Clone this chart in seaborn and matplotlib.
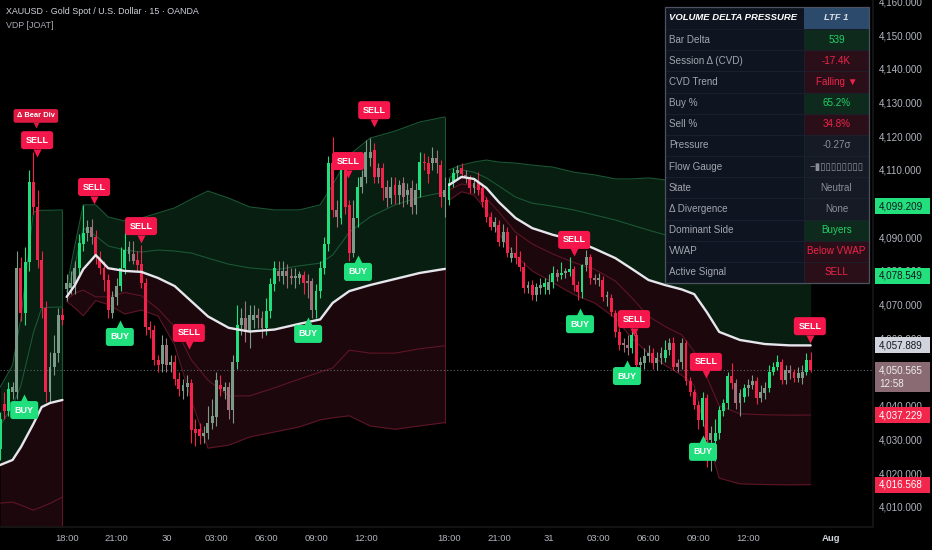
import numpy as np
import pandas as pd
import matplotlib
matplotlib.use("Agg")
import matplotlib.pyplot as plt
import matplotlib.transforms as mtransforms
from matplotlib.patches import Rectangle
import seaborn as sns

# ---------------- candles (15-min bars, index 0..195) ----------------
# session A : bars 0..15
open_a = [4027, 4040.5, 4038.5, 4044, 4044, 4081, 4067.5, 4082.5, 4106.4, 4099, 4083.2, 4069, 4044, 4051.5, 4055.5, 4067]
high_a = [4038, 4044, 4047, 4047, 4086, 4084, 4087, 4110, 4115.3, 4104, 4086, 4071, 4056, 4061, 4069, 4069]
low_a = [4024, 4036, 4037, 4042, 4042, 4065, 4064, 4080, 4097, 4081, 4066, 4041, 4041, 4049, 4053, 4064]
close_a = [4036, 4038.5, 4045, 4045.5, 4081, 4067.5, 4082.5, 4106.4, 4099, 4083.2, 4069, 4044, 4051.5, 4055.5, 4067, 4065.5]

# session B : bars 16..107
open_b = [4074.5, 4075, 4076, 4081, 4088, 4091.3, 4093, 4090, 4084, 4081,
          4077.3, 4067.5, 4072.3, 4075.5, 4081, 4085, 4085, 4083.2, 4082, 4076.4,
          4063.5, 4062.5, 4053.6, 4052.5, 4058, 4052, 4053, 4048, 4044.5, 4045.5,
          4046.8, 4033, 4033, 4031, 4032, 4035, 4036.5, 4046, 4044.5, 4045.5,
          4038.7, 4053, 4064, 4066, 4062, 4065.5, 4067, 4066, 4063, 4068,
          4076, 4080, 4078.5, 4080, 4078.5, 4077.8, 4078, 4078.8, 4077, 4077,
          4068.5, 4074, 4081, 4088, 4112, 4098, 4095.6, 4109.9, 4099.6, 4085.2,
          4095.6, 4105, 4107.9, 4113.4, 4115.9, 4110.4, 4110.4, 4105, 4101.5, 4105.5,
          4102.5, 4106, 4102.5, 4104.5, 4099.6, 4104, 4112.4, 4112, 4111.9, 4113.4,
          4111.4, 4102]
high_b = [4079, 4080, 4083, 4091, 4099.5, 4095, 4095.5, 4092, 4086, 4083,
          4079, 4074, 4078, 4087, 4092, 4089, 4089, 4086, 4087.7, 4078,
          4065, 4064, 4055, 4061, 4060, 4055, 4055, 4050, 4048, 4049,
          4048, 4036, 4035, 4034, 4040, 4042, 4050, 4049, 4047, 4047,
          4055, 4070, 4069, 4071, 4070, 4070, 4069, 4068, 4072, 4078,
          4083, 4083, 4083, 4082, 4081, 4081, 4080, 4080, 4079, 4078,
          4076, 4083, 4090, 4114, 4119.8, 4101, 4112, 4115, 4101, 4101,
          4108, 4110, 4118.8, 4119.4, 4118, 4112, 4112, 4107, 4108, 4108,
          4107, 4108, 4106, 4107, 4106, 4115.4, 4115, 4114, 4116.9, 4116,
          4113, 4108]
low_b = [4071, 4073, 4073, 4079, 4086, 4089, 4088, 4082, 4079, 4074,
         4066, 4066, 4070, 4074, 4079, 4083, 4082, 4080, 4075, 4061,
         4060, 4052, 4050, 4050, 4050, 4050, 4046, 4043, 4042, 4043,
         4029, 4028, 4028.5, 4029, 4030, 4033, 4034, 4043, 4042, 4036,
         4035, 4051, 4061, 4059, 4057, 4063, 4063, 4060, 4061, 4066,
         4074, 4077, 4076, 4075, 4076, 4075, 4076, 4073, 4072, 4066,
         4066, 4072, 4079, 4086, 4096, 4093, 4094, 4097, 4083, 4084,
         4093, 4103, 4106, 4111, 4106, 4106, 4101, 4099, 4100, 4100,
         4100, 4099, 4100, 4097, 4097, 4102, 4110, 4106, 4110, 4109,
         4099, 4096]
close_b = [4076.5, 4076.5, 4081, 4088.3, 4091.3, 4093, 4090, 4084, 4081, 4077.3,
           4068.4, 4072.3, 4075.5, 4081, 4086.2, 4087, 4083, 4081.7, 4076.4, 4063.4,
           4062.5, 4053.6, 4052, 4058, 4052, 4053, 4048, 4045, 4046, 4046.8,
           4032.8, 4032, 4031, 4032, 4035, 4037, 4047.6, 4045, 4045.5, 4038.7,
           4053, 4064, 4066, 4062, 4067, 4067, 4066, 4063, 4068, 4076,
           4081, 4078.5, 4080, 4078.5, 4078, 4078.6, 4079, 4076.5, 4076.4, 4068.5,
           4074, 4081, 4088, 4112, 4098, 4096, 4109.9, 4099.1, 4085.2, 4095.6,
           4105, 4107.9, 4115.4, 4115.4, 4107.9, 4107.9, 4104.5, 4101.5, 4105, 4102.5,
           4105.5, 4102, 4104, 4099.1, 4104, 4112.4, 4111.9, 4108.9, 4113.4, 4112,
           4102, 4104]

# session C : bars 108..195
open_c = [4101, 4106, 4109, 4110.5, 4108.5, 4107.5, 4104.5, 4106, 4104.5, 4101,
          4096, 4093.1, 4093.6, 4088.7, 4091.6, 4083.7, 4085.2, 4084.2, 4081.3, 4074.8,
          4075.8, 4072.8, 4075, 4075.3, 4074.3, 4076.8, 4079.3, 4078.8, 4079.5, 4079.8,
          4080.5, 4075.8, 4073.8, 4081.7, 4084.2, 4077.8, 4077.3, 4077.3, 4072.3, 4071.9,
          4067.4, 4062, 4058.5, 4058, 4057, 4061, 4052, 4052.6, 4054.6, 4055.6,
          4052.6, 4054.1, 4054.1, 4056.6, 4058.5, 4052.6, 4053.1, 4058.5, 4047.2, 4044.2,
          4040.2, 4035.8, 4042.2, 4029.9, 4029.4, 4031.8, 4038.3, 4040.7, 4048.7, 4046.7,
          4040.7, 4042.7, 4045.2, 4046.2, 4047.2, 4042.2, 4043.7, 4045.2, 4050.1, 4051.6,
          4053.1, 4047.7, 4050.6, 4050.1, 4048.2, 4048.2, 4050.1, 4053.6]
high_c = [4107.5, 4110.5, 4111.5, 4112, 4110, 4108.5, 4107.5, 4109.5, 4106, 4102,
          4097.5, 4096, 4095, 4094, 4093, 4087, 4090.6, 4086, 4082.5, 4077,
          4077.3, 4076.5, 4078, 4078, 4079, 4081.5, 4080.5, 4082.5, 4081, 4084,
          4081.5, 4077, 4082, 4086.2, 4085, 4079, 4079.5, 4078.5, 4074, 4073,
          4068.5, 4063, 4060, 4061, 4063, 4062, 4054.5, 4057, 4058, 4057,
          4056, 4057.5, 4059.5, 4060, 4060.5, 4054, 4060, 4059.5, 4048.5, 4045,
          4041.5, 4044, 4043.5, 4034, 4036, 4040, 4042, 4050, 4052.6, 4048,
          4045, 4046.5, 4048, 4049, 4048.5, 4046, 4047, 4052, 4053, 4055,
          4054, 4052, 4052, 4051, 4051.5, 4052, 4055.5, 4056]
low_c = [4099.5, 4105, 4107, 4107.5, 4106, 4103, 4103, 4102.5, 4099, 4094.5,
         4092, 4091.5, 4087.5, 4087, 4084, 4082.5, 4082, 4080, 4073.5, 4073.5,
         4071.5, 4071, 4073, 4073, 4073, 4075, 4077, 4077.5, 4078, 4078.5,
         4074, 4071.5, 4072, 4080, 4076, 4076, 4075.5, 4071, 4069.5, 4066.5,
         4060.5, 4056.5, 4056, 4055, 4055.5, 4051, 4050, 4051, 4053, 4051,
         4050.5, 4052.5, 4053, 4055, 4050.5, 4050, 4051, 4046, 4043, 4039,
         4033, 4034, 4021.8, 4020.5, 4023.5, 4030, 4037, 4039, 4045, 4039,
         4036.8, 4041, 4043, 4045, 4040.5, 4041, 4042, 4044, 4049, 4050.5,
         4046.5, 4046.5, 4048, 4047, 4047, 4046.5, 4049, 4050]
close_c = [4106, 4109, 4110, 4108.8, 4107.5, 4104.5, 4106, 4104, 4100.5, 4096,
           4093.1, 4094.6, 4088.7, 4091.6, 4085.2, 4085.2, 4083.7, 4081.3, 4074.8, 4075.8,
           4072.8, 4075.3, 4075.8, 4076.3, 4076.8, 4079.3, 4078.3, 4079.5, 4079.8, 4080.5,
           4075.8, 4073.8, 4081.7, 4084.2, 4077.8, 4077.3, 4077.8, 4072.3, 4072.8, 4067.9,
           4062, 4058, 4058, 4057, 4061, 4052, 4053, 4054.6, 4055.6, 4052.6,
           4054.1, 4055.6, 4056.6, 4058.5, 4051.6, 4051.6, 4058.5, 4047.2, 4044.2, 4040.2,
           4035.8, 4042.2, 4029.9, 4031.8, 4031.8, 4038.8, 4040.7, 4048.7, 4046.7, 4040.7,
           4043.7, 4045.2, 4046.2, 4047.2, 4042.2, 4044.2, 4045.2, 4050.1, 4051.6, 4053.1,
           4047.7, 4050.6, 4049.6, 4048.2, 4049.6, 4050.1, 4053.6, 4050.565]

# 1 = strong pressure candle colour, 0 = muted candle colour
strong_flags = ("1110011111110001" "0001100111100110" "0111111000110011" "1000010001000000"
                "1110000001001111" "1011101000101001" "0000011100101101" "0101111010101110"
                "1001010101111010" "0101110011000100" "1010011111101111" "1001001001111001" "0011")

# ---------------- session VWAP and bands (read at knots) ----------------
knots_a = [0, 3, 5, 8, 10, 12, 15]
vwap_a = [4022.4, 4023.9, 4027.7, 4034.6, 4039.6, 4040.8, 4041.7]
up1_a = [4034, 4040, 4046, 4061.6, 4069, 4069.2, 4069.3]
up2_a = [4045.5, 4052, 4066, 4097.5, 4098, 4098, 4098.1]
dn1_a = [4011.1, 4011.4, 4010.5, 4009, 4010, 4011, 4012.9]
dn2_a = [3999, 3996, 3990, 3983, 3980, 3982, 3985]

knots_b = [16, 18, 20, 23, 26, 30, 34, 38, 42, 46, 50, 55, 60, 66, 72, 77, 80, 84, 89, 95, 101, 107]
vwap_b = [4072.3, 4075.8, 4080.5, 4084.7, 4080.8, 4080.0, 4079.7, 4077.9, 4075.5, 4071.0, 4066.5,
          4063.1, 4062.0, 4062.6, 4064.3, 4065.6, 4070.5, 4074.0, 4075.8, 4077.6, 4079.4, 4080.6]
up1_b = [4073.8, 4081.8, 4092.7, 4090.4, 4087.4, 4086.2, 4085.6, 4086.2, 4085.9, 4085.3, 4083.8,
         4082.0, 4080.9, 4080.3, 4081.5, 4082.3, 4084.7, 4091.5, 4096.0, 4099.6, 4101.9, 4103.4]
up2_b = [4075.2, 4087.7, 4099.6, 4099.6, 4096.0, 4094.8, 4095.7, 4097.2, 4098.7, 4101.3, 4103.7,
         4101.6, 4099.0, 4098.1, 4098.1, 4099.6, 4105.5, 4114.4, 4119.4, 4121.5, 4124.2, 4125.7]
dn1_b = [4071.5, 4073.4, 4074.3, 4072.3, 4072.3, 4073.6, 4072.6, 4068.7, 4063.4, 4053.6, 4047.6,
         4042.9, 4042.9, 4045.3, 4047.9, 4050.0, 4051.2, 4056.5, 4055.6, 4055.6, 4056.9, 4057.8]
dn2_b = [4071.0, 4069.0, 4066.7, 4071.2, 4070.0, 4067.2, 4068.4, 4066.6, 4058.0, 4041.7, 4027.4,
         4028.3, 4030.7, 4032.2, 4033.7, 4035.8, 4036.4, 4037.0, 4034.0, 4033.0, 4034.0, 4035.0]

knots_c = [108, 111, 114, 117, 120, 124, 128, 133, 138, 143, 148, 152, 156, 160, 164, 167, 170, 173, 178, 184, 190, 195]
vwap_c = [4105.5, 4107.9, 4107.3, 4104.6, 4100.4, 4095.7, 4092.7, 4090.7, 4089.2, 4086.6, 4083.8,
          4080.6, 4077.3, 4075.8, 4074.5, 4073.1, 4067.8, 4061.9, 4059.5, 4058.3, 4057.9, 4057.889]
up1_c = [4107.6, 4110.0, 4109.3, 4107.6, 4105.2, 4101.9, 4100.1, 4099.2, 4098.1, 4096.6, 4095.1,
         4093.6, 4092.1, 4090.7, 4088.6, 4086.8, 4084.4, 4082.0, 4080.3, 4079.1, 4078.5, 4078.549]
up2_c = [4110.0, 4111.4, 4112.3, 4112.9, 4112.3, 4112.0, 4111.4, 4110.8, 4109.3, 4108.5, 4107.3,
         4107.3, 4107.6, 4107.0, 4106.4, 4105.5, 4104.0, 4102.2, 4101.0, 4099.8, 4099.3, 4099.209]
dn1_c = [4104.0, 4105.8, 4105.3, 4101.5, 4097.5, 4091.5, 4088.0, 4085.0, 4082.5, 4080.5, 4077.0,
         4072.0, 4066.5, 4063.5, 4061.0, 4056.0, 4048.5, 4040.0, 4037.6, 4037.3, 4037.2, 4037.229]
dn2_c = [4101.0, 4103.5, 4102.5, 4098.0, 4091.0, 4084.5, 4080.0, 4076.5, 4073.0, 4070.5, 4066.0,
         4060.0, 4055.5, 4052.0, 4049.0, 4046.0, 4031.0, 4018.5, 4016.8, 4016.6, 4016.5, 4016.568]

# ---------------- signals ----------------
sell_bar = [8.9, 22.6, 33.9, 45.4, 83.7, 90.0, 138.1, 152.5, 169.8, 194.8]
sell_price = [4118.8, 4104.9, 4093.3, 4061.6, 4112.6, 4127.7, 4089.2, 4065.7, 4053.0, 4063.6]
buy_bar = [5.8, 28.8, 74.1, 86.1, 139.5, 150.8, 169.1]
buy_price = [4038.7, 4060.4, 4061.3, 4079.7, 4064.2, 4048.8, 4026.3]
div_bar, div_price = 8.6, 4126.0

# ---------------- axis labels ----------------
tick_pos = [16, 28, 40, 52, 64, 76, 88, 108, 120, 132, 144, 156, 168, 180, 200]
tick_lab = ["18:00", "21:00", "30", "03:00", "06:00", "09:00", "12:00",
            "18:00", "21:00", "31", "03:00", "06:00", "09:00", "12:00", "Aug"]
price_ticks = list(range(4010, 4161, 10))
hidden_ticks = [4050, 4100]          # fully covered by the price badges
last_price, countdown = 4050.565, "12:58"

# ---------------- table ----------------
table_title = ("VOLUME DELTA PRESSURE", "LTF 1")
table_labels = ["Bar Delta", "Session \u0394 (CVD)", "CVD Trend", "Buy %", "Sell %", "Pressure",
                "Flow Gauge", "State", "\u0394 Divergence", "Dominant Side", "VWAP", "Active Signal"]
table_values = ["539", "-17.4K", "Falling \u25bc", "65.2%", "34.8%", "-0.27\u03c3",
                "\u2212\u25ae\u25af\u25af\u25af\u25af\u25af\u25af\u25af\u25af", "Neutral", "None",
                "Buyers", "Below VWAP", "SELL"]
table_tone = ["pos", "neg", "neg", "pos", "neg", "neu", "neu", "neu", "neu", "pos", "neg", "neg"]

# ---------------- style ----------------
sns.set_theme(style="dark", rc={"axes.facecolor": "black", "figure.facecolor": "black",
                                "axes.edgecolor": "#1a1a1a", "axes.grid": False})
plt.rcParams['font.family'] = ['Liberation Sans', 'DejaVu Sans']

C_UP, C_DN = "#20df7c", "#f2234b"
C_UPW, C_DNW = "#7b9b88", "#a0707b"
G_FILL, R_FILL = "#071e10", "#1c070c"
G_LINE, R_LINE = "#1b5634", "#5e1526"
TXT = "#b2b5be"

W, H = 932, 550
fig = plt.figure(figsize=(W / 100, H / 100), dpi=100, facecolor="black")
ax = fig.add_axes([0, 23 / H, 873 / W, 527 / H])
ax.set_facecolor("black")

opens = np.array(open_a + open_b + open_c, dtype=float)
highs = np.array(high_a + high_b + high_c, dtype=float)
lows = np.array(low_a + low_b + low_c, dtype=float)
closes = np.array(close_a + close_b + close_c, dtype=float)
assert len(opens) == len(highs) == len(lows) == len(closes) == len(strong_flags) == 196
idx = np.arange(len(opens))

# fills between vwap and outer bands
sessions = [(knots_a, vwap_a, up1_a, up2_a, dn1_a, dn2_a),
            (knots_b, vwap_b, up1_b, up2_b, dn1_b, dn2_b),
            (knots_c, vwap_c, up1_c, up2_c, dn1_c, dn2_c)]
for kn, vw, u1, u2, d1, d2 in sessions:
    ax.fill_between(kn, vw, u2, color=G_FILL, lw=0, zorder=1)
    ax.fill_between(kn, vw, d2, color=R_FILL, lw=0, zorder=1)
for kn, vw, u1, u2, d1, d2 in sessions[:2]:
    ax.vlines(kn[-1], vw[-1], u2[-1], color=G_LINE, lw=0.8, zorder=2)
    ax.vlines(kn[-1], d2[-1], vw[-1], color=R_LINE, lw=0.8, zorder=2)

rows = []
for s, (kn, vw, u1, u2, d1, d2) in enumerate(sessions):
    for name, arr in (("vwap", vw), ("up1", u1), ("up2", u2), ("dn1", d1), ("dn2", d2)):
        for k, v in zip(kn, arr):
            rows.append((s, name, k, v))
bands = pd.DataFrame(rows, columns=["session", "line", "bar", "price"])
for name, col, lw, z in (("up2", G_LINE, 0.8, 2), ("up1", G_LINE, 0.8, 2),
                         ("dn1", R_LINE, 0.8, 2), ("dn2", R_LINE, 0.8, 2),
                         ("vwap", "#e6e6ec", 1.7, 7)):
    sns.lineplot(data=bands[bands.line == name], x="bar", y="price", units="session",
                 estimator=None, color=col, lw=lw, ax=ax, legend=False, zorder=z)

# candles
strong = np.array([c == "1" for c in strong_flags])
up = closes >= opens
cols = np.where(up, np.where(strong, C_UP, C_UPW), np.where(strong, C_DN, C_DNW))
ax.vlines(idx, lows, highs, colors=cols, lw=0.8, zorder=5)
body_lo = np.minimum(opens, closes)
body_h = np.maximum(np.abs(closes - opens), 0.35)
ax.bar(idx, body_h, bottom=body_lo, width=0.7, color=cols, edgecolor="none", zorder=6)

# last price dotted line
ax.axhline(last_price, color="#5f626c", lw=0.8, ls=(0, (1, 2)), zorder=4)

ax.set_xlim(-0.03, 210)
ax.set_ylim(4004.0, 4160.4)
ax.set_xlabel("")
ax.set_ylabel("")
ax.set_xticks(tick_pos)
ax.set_xticklabels(tick_lab)
ax.yaxis.tick_right()
ax.set_yticks(price_ticks)
ax.set_yticklabels(["" if v in hidden_ticks else f"{v:,.3f}" for v in price_ticks])
ax.tick_params(axis="x", labelcolor=TXT, labelsize=6.8, length=0, pad=5)
ax.tick_params(axis="y", labelcolor=TXT, labelsize=7.1, length=0, pad=4)
ax.get_xticklabels()[-1].set_fontweight("bold")
ax.get_xticklabels()[-1].set_color("#d1d4dc")
for sp in ("top", "left"):
    ax.spines[sp].set_visible(False)
ax.spines["right"].set_color("#161616")
ax.spines["bottom"].set_color("#161616")


def sig_label(j, p, text, fc, down, fs=6.5, pad=0.5, ms=5.5, off=12.5):
    ax.text(j, p, text, ha="center", va="center", color="white", fontsize=fs,
            fontweight="bold", zorder=9,
            bbox=dict(boxstyle=f"round,pad={pad},rounding_size=0.3", fc=fc, ec="none"))
    tr = mtransforms.offset_copy(ax.transData, fig=fig, x=0, y=(-off if down else off), units="dots")
    ax.plot([j], [p], marker="v" if down else "^", ms=ms, color=fc, mec="none",
            transform=tr, zorder=9, clip_on=False)


for j, p in zip(sell_bar, sell_price):
    sig_label(j, p, "SELL", "#f5174b", True)
for j, p in zip(buy_bar, buy_price):
    sig_label(j, p, "BUY", "#1fe07d", False)
sig_label(div_bar, div_price, "\u0394 Bear Div", "#dc1a42", True, fs=5.4, pad=0.45, ms=4, off=9)

# ---------------- overlay (pixel coordinates) ----------------
ov = fig.add_axes([0, 0, 1, 1], zorder=20)
ov.set_xlim(0, W)
ov.set_ylim(H, 0)
ov.axis("off")
ov.patch.set_alpha(0)


def py(price):
    return H - ax.transData.transform((0, price))[1]


def badge(price, text, fc, tc, h=16, extra=None):
    y = py(price)
    hh = h + (14 if extra else 0)
    ov.add_patch(Rectangle((875, y - h / 2), 55, hh, fc=fc, ec="none", zorder=5))
    ov.text(879, y, text, color=tc, fontsize=7.1, va="center", ha="left", zorder=6)
    if extra:
        ov.text(879, y + 14, extra, color=tc, fontsize=7.1, va="center", ha="left", zorder=6)


badge(up2_c[-1], f"{up2_c[-1]:,.3f}", "#22e07b", "#131722")
badge(up1_c[-1], f"{up1_c[-1]:,.3f}", "#22e07b", "#131722")
badge(vwap_c[-1], f"{vwap_c[-1]:,.3f}", "#d1d4dc", "#131722")
badge(last_price, f"{last_price:,.3f}", "#8a6b74", "#eeeeee", extra=countdown)
badge(dn1_c[-1], f"{dn1_c[-1]:,.3f}", "#f2254b", "white")
badge(dn2_c[-1], f"{dn2_c[-1]:,.3f}", "#f2254b", "white")

# title
ov.text(6, 12, "XAUUSD \u00b7 Gold Spot / U.S. Dollar \u00b7 15 \u00b7 OANDA", color="#d1d4dc",
        fontsize=6.4, va="center", ha="left")
ov.text(6, 26, "VDP [JOAT]", color="#a9acb5", fontsize=6.4, va="center", ha="left")

# table
tx0, txd, tx1 = 665, 804, 869
ty0, tyh = 7, 29
rh = (283 - tyh) / len(table_labels)
bg_val = {"pos": "#0d2a1d", "neg": "#2a0f19", "neu": "#151a24"}
fg_val = {"pos": "#22d065", "neg": "#f0234a", "neu": "#8b8f99"}
ov.add_patch(Rectangle((tx0, ty0), txd - tx0, tyh - ty0, fc="#0f1520", ec="none", zorder=2))
ov.add_patch(Rectangle((txd, ty0), tx1 - txd, tyh - ty0, fc="#2b4a6c", ec="none", zorder=2))
ov.text(tx0 + 4, (ty0 + tyh) / 2, table_title[0], color="white", fontsize=6.8,
        fontweight="bold", fontstyle="italic", va="center", ha="left", zorder=3)
ov.text((txd + tx1) / 2, (ty0 + tyh) / 2, table_title[1], color="#d8dbe2", fontsize=6.8,
        fontweight="bold", fontstyle="italic", va="center", ha="center", zorder=3)
for i, (lab, val, tone) in enumerate(zip(table_labels, table_values, table_tone)):
    y0 = tyh + i * rh
    ov.add_patch(Rectangle((tx0, y0), txd - tx0, rh, fc="#0f1520", ec="#1d2330", lw=0.5, zorder=2))
    ov.add_patch(Rectangle((txd, y0), tx1 - txd, rh, fc=bg_val[tone], ec="#1d2330", lw=0.5, zorder=2))
    ov.text(tx0 + 4, y0 + rh / 2, lab, color="#a3a6af", fontsize=7.1, va="center", ha="left", zorder=3)
    ov.text((txd + tx1) / 2, y0 + rh / 2, val, color=fg_val[tone], fontsize=7.1,
            va="center", ha="center", zorder=3)
ov.add_patch(Rectangle((tx0, ty0), tx1 - tx0, 283 - ty0, fc="none", ec="#4d5260", lw=0.9, zorder=4))

fig.savefig("out.png", dpi=100, facecolor="black")
